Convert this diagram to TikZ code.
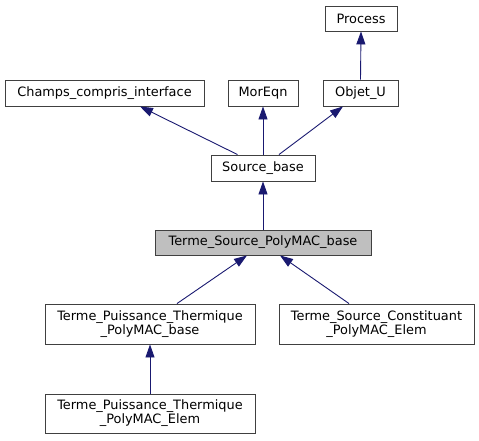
\documentclass[tikz,border=0pt]{standalone}
\usepackage{fontspec}
\setmainfont{DejaVu Sans}
\usetikzlibrary{arrows.meta}
\definecolor{edgecol}{HTML}{191970}
\definecolor{boxline}{HTML}{404040}
\begin{document}
\begin{tikzpicture}[x=1pt,y=-1pt,
  cls/.style={draw=boxline, line width=0.9pt, fill=white, inner sep=0pt, align=center,
    font=\fontsize{12.9}{14}\selectfont},
  inh/.style={draw=edgecol, line width=0.9pt, -{Triangle[length=13pt,width=9pt]}}]
\useasboundingbox (0,0) rectangle (479,440);
\node[cls, minimum width=72pt, minimum height=25pt] (proc) at (361,18.5) {Process};
\node[cls, minimum width=199pt, minimum height=26pt] (champs) at (104.5,93) {Champs\_compris\_interface};
\node[cls, minimum width=70pt, minimum height=26pt] (mor) at (263,93) {MorEqn};
\node[cls, minimum width=75pt, minimum height=26pt] (obj) at (360.5,93) {Objet\_U};
\node[cls, minimum width=104pt, minimum height=26pt] (src) at (263,168) {Source\_base};
\node[cls, fill=black!25, minimum width=216pt, minimum height=25pt] (tspb) at (263,242.5) {Terme\_Source\_PolyMAC\_base};
\node[cls, minimum width=210pt, minimum height=40pt] (tptpb) at (150,324) {Terme\_Puissance\_Thermique\\\_PolyMAC\_base};
\node[cls, minimum width=195pt, minimum height=40pt] (tscpe) at (376.5,324) {Terme\_Source\_Constituant\\\_PolyMAC\_Elem};
\node[cls, minimum width=210pt, minimum height=39pt] (tptpe) at (150,413.5) {Terme\_Puissance\_Thermique\\\_PolyMAC\_Elem};
\draw[inh] (src.north -| 237.5,0) -- (champs.south -| 140,0);
\draw[inh] (src.north) -- (mor.south);
\draw[inh] (src.north -| 279,0) -- (obj.south -| 343,0);
\draw[inh] (obj.north) -- (proc.south);
\draw[inh] (tspb.north) -- (src.south);
\draw[inh] (tptpb.north -| 177,0) -- (tspb.south -| 247,0);
\draw[inh] (tscpe.north -| 349,0) -- (tspb.south -| 280,0);
\draw[inh] (tptpe.north) -- (tptpb.south);
\end{tikzpicture}
\end{document}
